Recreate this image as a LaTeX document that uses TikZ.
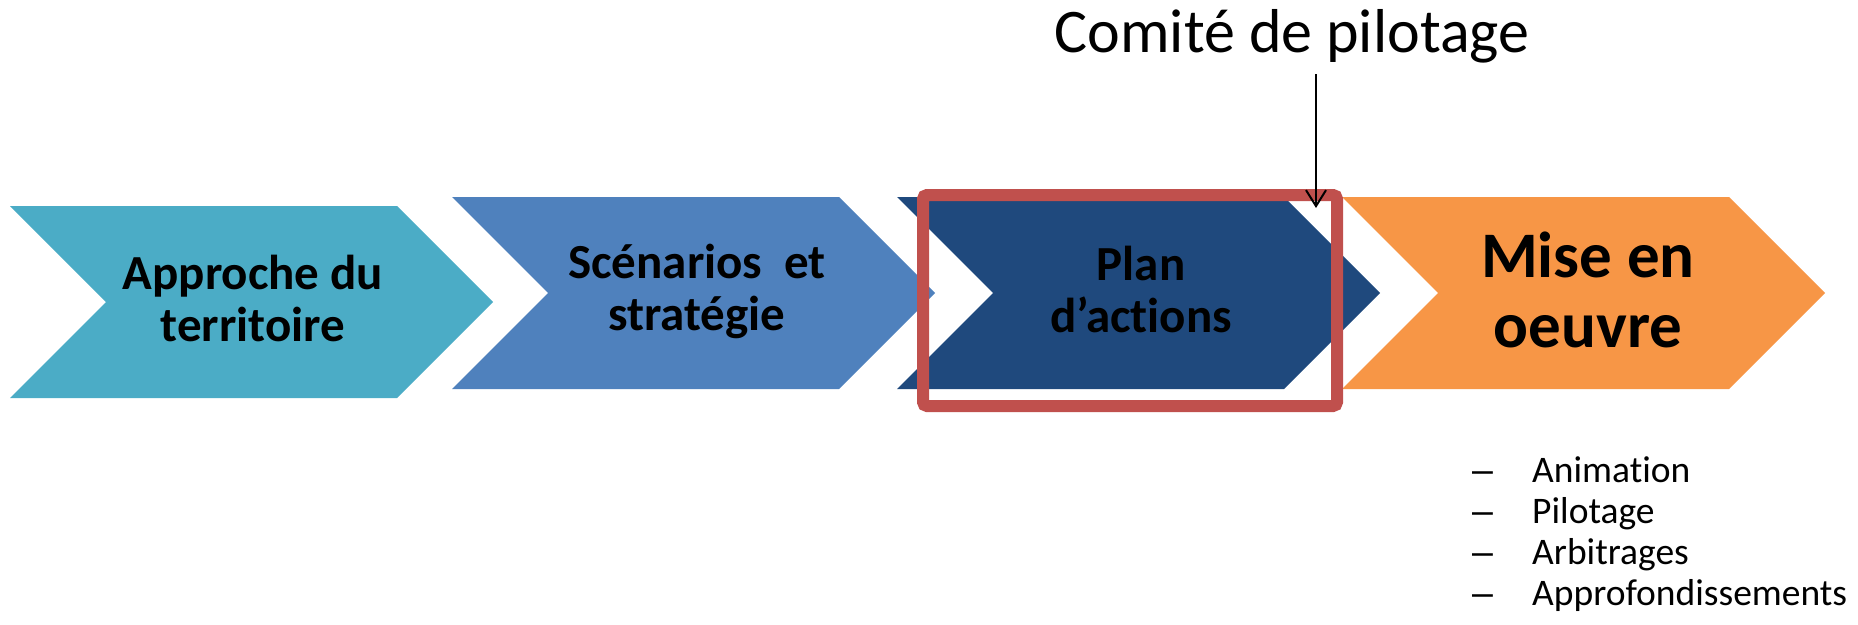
\documentclass[tikz,border=0pt]{standalone}
\usepackage{fontspec}
\setmainfont{Carlito}[Ligatures=NoCommon]
\newfontfamily\puce{Liberation Sans}
\usetikzlibrary{arrows.meta}

\definecolor{turquoise}{HTML}{4BACC6}
\definecolor{bleu}{HTML}{4F81BD}
\definecolor{bleufonce}{HTML}{1F497D}
\definecolor{orangeclair}{HTML}{F79646}
\definecolor{rouge}{HTML}{C0504D}

\begin{document}
\begin{tikzpicture}[x=1pt, y=-1pt,
  etape/.style={align=center, font=\bfseries\fontsize{49}{52}\selectfont, inner sep=0pt},
  tache/.style={font=\fontsize{37.5}{41}\selectfont, anchor=base west, inner sep=0pt},
  fleche/.style={-{Straight Barb[length=16pt,width=20pt]}, line width=2pt}]
\useasboundingbox (0,0) rectangle (1858,624);

\fill[turquoise] (10,206) -- (397,206) -- (493,302) -- (397,398) -- (10,398) -- (106,302) -- cycle;
\fill[bleu] (452,197) -- (839,197) -- (935,293) -- (839,389) -- (452,389) -- (548,293) -- cycle;
\fill[bleufonce] (897,197) -- (1284,197) -- (1380,293) -- (1284,389) -- (897,389) -- (993,293) -- cycle;
\fill[orangeclair] (1342,197) -- (1729,197) -- (1825,293) -- (1729,389) -- (1342,389) -- (1438,293) -- cycle;

\draw[rouge, line width=12pt, rounded corners=4pt] (923,195) rectangle (1337,406);

\node[etape](approche) at (253,298) {Approche du\\territoire};
\node[etape](scenarios) at (697,291) {Scénarios~~et\\stratégie};
\node[etape](plan) at (1141,289) {Plan\\d’actions};
\node[etape, font=\bfseries\fontsize{65}{70}\selectfont](miseoeuvre) at (1588,290) {Mise en\\oeuvre};

\node[font=\fontsize{62}{70}\selectfont, anchor=base, inner sep=0pt](comite) at (1292,52) {Comité de pilotage};
\coordinate (depart) at (1316,74);
\coordinate (cible) at (1316,208);
\draw[fleche] (depart) -- (cible);

\node[tache](animation) at (1472,482) {\makebox[60pt][l]{\puce –}Animation};
\node[tache](pilotage) at (1472,523) {\makebox[60pt][l]{\puce –}Pilotage};
\node[tache](arbitrages) at (1472,564) {\makebox[60pt][l]{\puce –}Arbitrages};
\node[tache](approfondissements) at (1472,605) {\makebox[60pt][l]{\puce –}Approfondissements};
\end{tikzpicture}
\end{document}
